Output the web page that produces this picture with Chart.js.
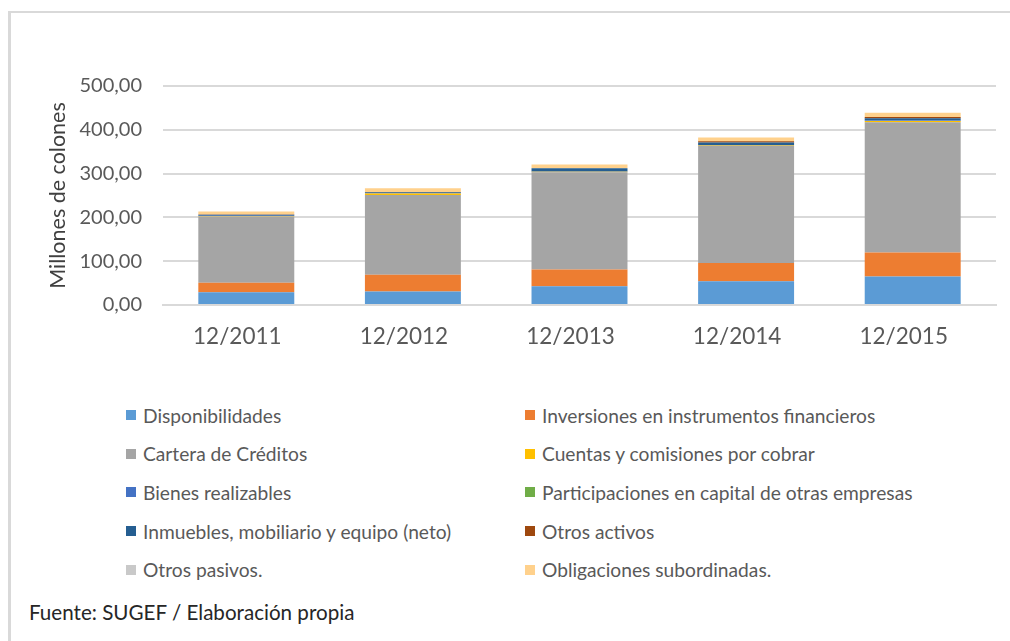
<!DOCTYPE html>
<html>
<head>
<meta charset="utf-8">
<script src="https://cdn.jsdelivr.net/npm/chart.js@4/dist/chart.umd.min.js"></script>
<style>
  html, body { margin:0; padding:0; background:#fff; }
  #wrap { position:relative; width:1010px; height:641px; overflow:hidden; background:#fff; font-family: Lato, "Open Sans", sans-serif; }
  #frame { position:absolute; left:8px; top:11px; width:1100px; height:700px; border-left:3px solid #d9d9d9; border-top:2px solid #d9d9d9; box-sizing:border-box; }
  #c { position:absolute; left:0; top:0; }
  #legend { position:absolute; left:126px; top:396px; display:grid; grid-template-columns:399px 420px; grid-auto-rows:38.6px; }
  .li { display:flex; align-items:center; font-size:19.2px; color:#595959; white-space:nowrap; }
  .sw { width:10px; height:10px; margin-right:7px; flex:none; }
  #foot { position:absolute; left:29px; top:600px; font-size:20.6px; color:#262626; white-space:nowrap; }
</style>
</head>
<body>
<div id="wrap">
  <div id="frame"></div>
  <canvas id="c" width="1010" height="365"></canvas>
  <div id="legend"></div>
  <div id="foot">Fuente: SUGEF / Elaboración propia</div>
</div>
<script>
const categories = ["12/2011", "12/2012", "12/2013", "12/2014", "12/2015"];
const seriesNames = [
  "Disponibilidades",
  "Inversiones en instrumentos financieros",
  "Cartera de Créditos",
  "Cuentas y comisiones por cobrar",
  "Bienes realizables",
  "Participaciones en capital de otras empresas",
  "Inmuebles, mobiliario y equipo (neto)",
  "Otros activos",
  "Otros pasivos.",
  "Obligaciones subordinadas."
];
const disponibilidades = [29, 31, 43, 54, 65];
const inversiones = [22, 38, 38, 42, 55];
const cartera = [151, 182, 222, 267, 297];
const cuentas = [1, 3.5, 1, 1, 3];
const bienes = [0.5, 0.5, 1, 1, 1];
const participaciones = [0, 0, 0, 0, 0.3];
const inmuebles = [2.5, 2.5, 7, 6, 5];
const otrosActivos = [0.5, 0.5, 0.5, 3, 3];
const otrosPasivos = [0, 0, 0, 0, 0];
const obligaciones = [7, 8.5, 8.5, 8.5, 9.5];
const yTicks = [0, 100, 200, 300, 400, 500];
const colors = ["#5B9BD5", "#ED7D31", "#A5A5A5", "#FFC000", "#4472C4", "#70AD47", "#255E91", "#9E480E", "#C9C9C9", "#FFD18C"];

const seriesValues = [disponibilidades, inversiones, cartera, cuentas, bienes, participaciones, inmuebles, otrosActivos, otrosPasivos, obligaciones];

const datasets = seriesNames.map((name, i) => ({
  label: name,
  data: seriesValues[i],
  backgroundColor: colors[i],
  borderWidth: 0,
  categoryPercentage: 1,
  barPercentage: 0.576
}));

const FONT = "Lato";
const chart = new Chart(document.getElementById('c'), {
  type: 'bar',
  data: { labels: categories, datasets },
  options: {
    responsive: false,
    animation: false,
    devicePixelRatio: 1,
    layout: { padding: { top: 86, right: 14, bottom: 5, left: 0 } },
    plugins: { legend: { display: false }, tooltip: { enabled: false } },
    scales: {
      x: {
        stacked: true,
        grid: { display: false, drawTicks: false },
        border: { display: true, color: '#d9d9d9', width: 2 },
        ticks: { color: '#595959', font: { family: FONT, size: 22.5 }, padding: 18, maxRotation: 0, labelOffset: -9 },
        afterFit: s => { s.height = 55; }
      },
      y: {
        stacked: true,
        min: 0, max: 500,
        afterBuildTicks: s => { s.ticks = yTicks.map(v => ({ value: v })); },
        grid: { color: '#d9d9d9', lineWidth: 2, drawTicks: false },
        border: { display: false },
        ticks: {
          color: '#595959', font: { family: FONT, size: 20 }, padding: 21,
          callback: v => v.toFixed(2).replace('.', ',')
        },
        title: {
          display: true, text: 'Millones de colones', color: '#404040',
          font: { family: FONT, size: 21.5, lineHeight: 1.2 },
          padding: { top: 45, bottom: 0 }
        },
        afterFit: s => { s.width = 163; }
      }
    }
  }
});

const legend = document.getElementById('legend');
chart.data.datasets.forEach(ds => {
  const item = document.createElement('div');
  item.className = 'li';
  const sw = document.createElement('span');
  sw.className = 'sw';
  sw.style.background = ds.backgroundColor;
  item.appendChild(sw);
  item.appendChild(document.createTextNode(ds.label));
  legend.appendChild(item);
});
</script>
</body>
</html>
